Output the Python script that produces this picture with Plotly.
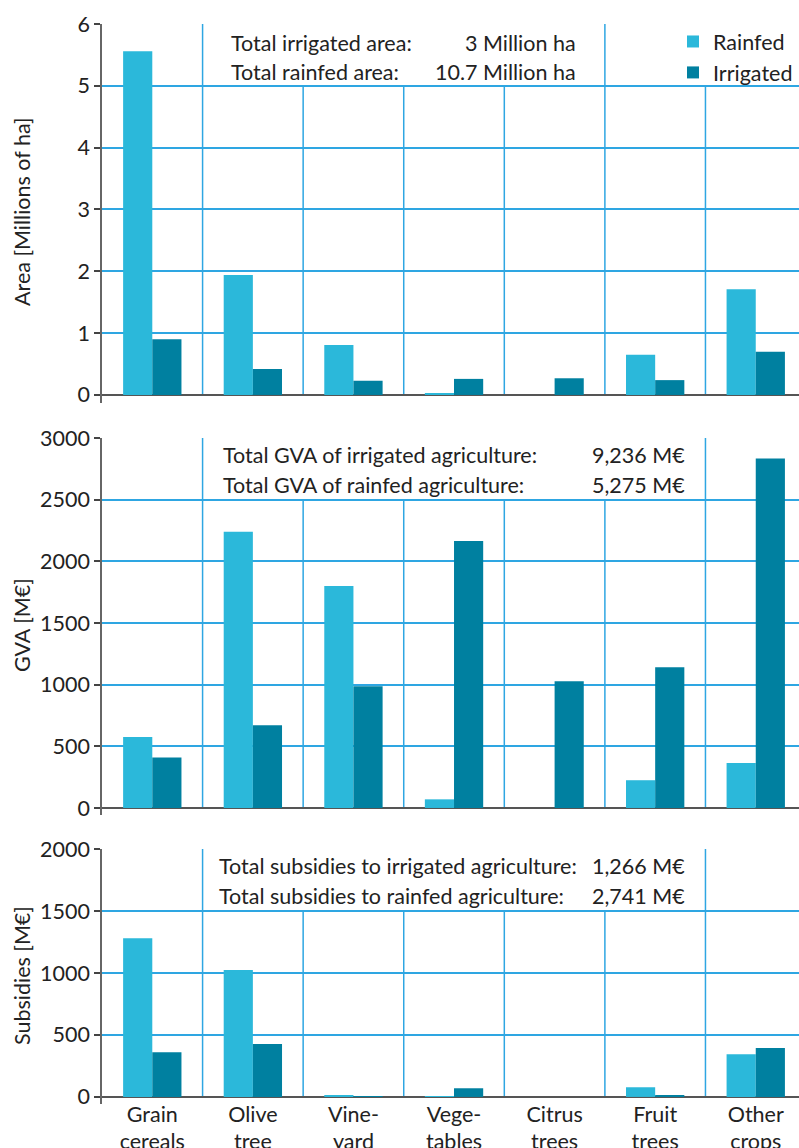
import plotly.graph_objects as go

categories = ["Grain<br>cereals", "Olive<br>tree", "Vine-<br>yard", "Vege-<br>tables",
              "Citrus<br>trees", "Fruit<br>trees", "Other<br>crops"]

area_rainfed = [5.56, 1.94, 0.81, 0.03, 0.0, 0.65, 1.71]
area_irrigated = [0.90, 0.42, 0.23, 0.26, 0.27, 0.24, 0.70]

gva_rainfed = [575, 2240, 1800, 70, 0, 225, 365]
gva_irrigated = [410, 670, 988, 2165, 1028, 1142, 2833]

subs_rainfed = [1280, 1024, 12, 3, 0, 78, 345]
subs_irrigated = [361, 426, 2, 70, 0, 12, 394]

area_ticks = [0, 1, 2, 3, 4, 5, 6]
gva_ticks = [0, 500, 1000, 1500, 2000, 2500, 3000]
subs_ticks = [0, 500, 1000, 1500, 2000]

W, H = 799, 1148
C_RAIN = "#2bb8da"
C_IRR = "#0080a0"
C_GRID = "#2ea6e2"
FONT = "Lato"
FS = 21.5
TXT = "#222222"


def px(x):
    return x / W


def py(y):
    return 1 - y / H


fig = go.Figure()

panels = [
    ("", area_rainfed, area_irrigated, area_ticks, [-0.13, 6], (24, 403), 5, [0, 4]),
    ("2", gva_rainfed, gva_irrigated, gva_ticks, [-57, 3000], (438, 815), 2500, [0, 5]),
    ("3", subs_rainfed, subs_irrigated, subs_ticks, [-57, 2000], (849, 1104), 1500, [0, 5]),
]

for k, (sfx, rf, ir, ticks, yr, (top, bot), boxbottom, full) in enumerate(panels):
    fig.add_trace(go.Bar(x=categories, y=rf, name="Rainfed", marker_color=C_RAIN,
                         marker_line_width=0, xaxis="x" + sfx, yaxis="y" + sfx,
                         showlegend=(k == 0)))
    fig.add_trace(go.Bar(x=categories, y=ir, name="Irrigated", marker_color=C_IRR,
                         marker_line_width=0, xaxis="x" + sfx, yaxis="y" + sfx,
                         showlegend=(k == 0)))
    xa = dict(type="category", range=[-0.5, 6.43], domain=[px(102), 1],
              showgrid=False, showline=False, ticks="", zeroline=False,
              anchor="y" + sfx, showticklabels=(k == 2), ticklabelstandoff=-5,
              tickfont=dict(family=FONT, size=FS, color=TXT), automargin=False)
    ya = dict(range=yr, domain=[py(bot), py(top)], tickvals=ticks,
              showgrid=True, gridcolor=C_GRID, gridwidth=1.5,
              showline=True, linecolor="#666666", linewidth=1.5,
              ticks="outside", ticklen=6, tickcolor="#444444", tickwidth=1.5,
              zeroline=True, zerolinecolor="#555555", zerolinewidth=1.5,
              tickfont=dict(family=FONT, size=FS, color=TXT),
              anchor="x" + sfx, automargin=False)
    fig.layout["xaxis" + sfx] = xa
    fig.layout["yaxis" + sfx] = ya
    # category separators
    for i in range(len(categories) - 1):
        ytop = yr[1] if i in full else boxbottom
        fig.add_shape(type="line", xref="x" + sfx, yref="y" + sfx,
                      x0=i + 0.5, x1=i + 0.5, y0=0, y1=ytop,
                      line=dict(color=C_GRID, width=1.5), layer="below")

ann_font = dict(family=FONT, size=FS, color=TXT)
texts = [
    (229, 578, 43, "Total irrigated area:", "3 Million ha"),
    (229, 578, 72, "Total rainfed area:", "10.7 Million ha"),
    (221, 687, 455, "Total GVA of irrigated agriculture:", "9,236 M€"),
    (221, 687, 485, "Total GVA of rainfed agriculture:", "5,275 M€"),
    (217, 687, 866, "Total subsidies to irrigated agriculture:", "1,266 M€"),
    (217, 687, 896, "Total subsidies to rainfed agriculture:", "2,741 M€"),
]
for xl, xr, yc, lt, rt in texts:
    fig.add_annotation(x=px(xl), y=py(yc), xref="paper", yref="paper", text=lt,
                       showarrow=False, xanchor="left", yanchor="middle", font=ann_font)
    fig.add_annotation(x=px(xr), y=py(yc), xref="paper", yref="paper", text=rt,
                       showarrow=False, xanchor="right", yanchor="middle", font=ann_font)

for yc, t in [(212, "Area [Millions of ha]"), (625, "GVA [M€]"), (976, "Subsidies [M€]")]:
    fig.add_annotation(x=px(22), y=py(yc), xref="paper", yref="paper", text=t,
                       textangle=-90, showarrow=False, xanchor="center", yanchor="middle",
                       font=ann_font)

fig.update_layout(
    width=W, height=H,
    margin=dict(l=0, r=0, t=0, b=0),
    paper_bgcolor="white", plot_bgcolor="white",
    barmode="group", bargap=0.42, bargroupgap=0,
    font=dict(family=FONT, size=FS, color=TXT),
    legend=dict(x=px(673), y=py(21), xanchor="left", yanchor="top",
                font=dict(family=FONT, size=FS, color=TXT),
                bgcolor="rgba(0,0,0,0)", itemwidth=30, tracegroupgap=0),
)

fig.write_html("out.html", config={"displayModeBar": False},
               post_script="document.body.style.margin='0';document.body.style.overflow='hidden';")
